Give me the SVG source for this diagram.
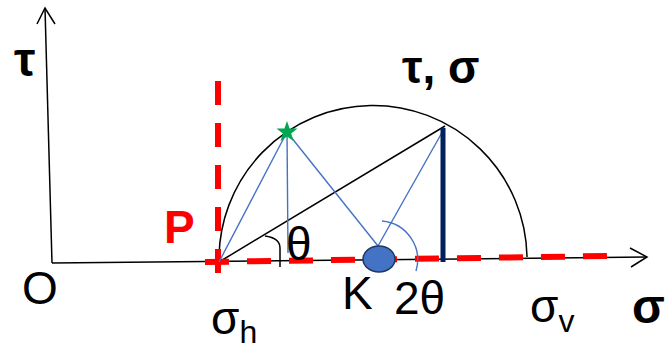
<svg xmlns="http://www.w3.org/2000/svg" width="671" height="350" viewBox="0 0 671 350">
<style>
.ax{fill:none;stroke:#000;stroke-width:1.5}
.bl{fill:none;stroke:#4472C4;stroke-width:1.4}
.rd{fill:none;stroke:#FF0000;stroke-width:6;stroke-dasharray:24 18}
.t{font-family:"Liberation Sans",Arial,sans-serif;fill:#000}
.b{font-weight:bold}
</style>
<rect width="671" height="350" fill="#fff"/>
<g id="connectors">
<path class="ax" d="M52,263 L45,8"/>
<path class="ax" d="M37,24 L45,8 L55,24"/>
<path class="ax" d="M52,263 L647,257"/>
<path class="ax" d="M630,248 L647,257 L631,267"/>
<path class="ax" d="M219,262 A154,154 0 0 1 527,257"/>
<path class="ax" d="M219,262 L445,126"/>
<path class="ax" d="M265,236 Q280,238 280,248 L280,267"/>
<path class="rd" d="M205,262 L607,256"/>
<path class="rd" d="M218,81 L218,274"/>
<path class="bl" d="M287,132 L219,262"/>
<path class="bl" d="M287,132 L288,253"/>
<path class="bl" d="M287,132 L378,246"/>
<path class="bl" d="M378,246 L444,129"/>
<path class="bl" d="M382,221 A39,39 0 0 1 416,271"/>
<path d="M443,128 L443,262" fill="none" stroke="#002060" stroke-width="5"/>
</g>
<g id="K">
<ellipse cx="379" cy="259" rx="16" ry="13" fill="#4472C4" stroke="#1F3864" stroke-width="1.5"/>
</g>
<g id="star">
<polygon points="287,121 289.6,128.4 297.5,128.6 291.2,133.4 293.5,141 287,136.5 280.5,141 282.8,133.4 276.5,128.6 284.4,128.4" fill="#00A650"/>
</g>
<g id="labels">
<text class="t b" x="14" y="76" style="font-size:48px">τ</text>
<text class="t b" x="402" y="83" style="font-size:46px">τ, σ</text>
<text class="t b" x="164" y="243" style="font-size:46px;fill:#FF0000">P</text>
<text class="t" x="286" y="260" style="font-size:46px">θ</text>
<text class="t" x="22" y="304" style="font-size:46px">O</text>
<text class="t" x="342" y="309" style="font-size:46px">K</text>
<text class="t" x="394" y="314" style="font-size:46px">2θ</text>
<text class="t" x="211" y="334" style="font-size:46px">σ<tspan dy="9" style="font-size:32px">h</tspan></text>
<text class="t" x="530" y="322" style="font-size:46px">σ<tspan dy="10" style="font-size:32px">v</tspan></text>
<text class="t b" x="632" y="323" style="font-size:48px">σ</text>
</g>
</svg>
